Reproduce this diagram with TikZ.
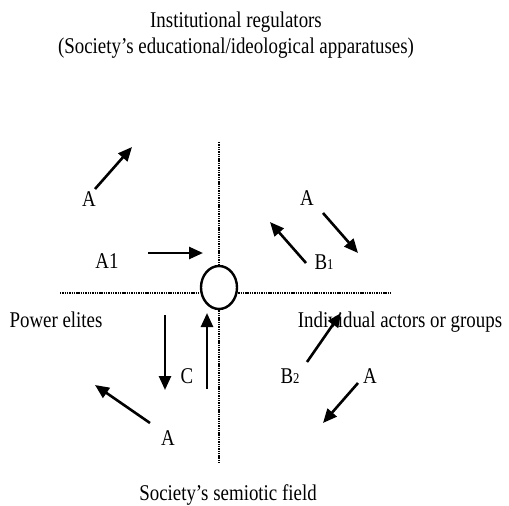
\documentclass[tikz,border=0pt]{standalone}
\usepackage{fontspec}
\setmainfont{Liberation Serif}[FakeStretch=0.84]
\usetikzlibrary{arrows.meta, shapes.geometric}
\tikzset{
  lbl/.style  = {font=\fontsize{22.5}{26}\selectfont, inner sep=0pt, align=center},
  arr/.style  = {-{Triangle[length=14pt,width=12pt]}, line width=2.6pt},
  axisln/.style = {line width=2.8pt, dash pattern=on 1.4pt off 0.9pt},
  hub/.style  = {draw, ellipse, line width=2.4pt, minimum width=36pt,
                 minimum height=43pt, inner sep=0pt},
}
\newcommand{\sub}[1]{{\fontsize{15}{15}\selectfont #1}}

\begin{document}
\begin{tikzpicture}[x=1pt, y=-1pt]
  \useasboundingbox (0,0) rectangle (509,506);

  % titles
  \node[lbl] (regul) at (236,35)
    {Institutional regulators\\(Society's educational/ideological apparatuses)};
  \node[lbl, anchor=base] (field) at (228,500) {Society's semiotic field};
  \node[lbl, anchor=base] (elites) at (56,327) {Power elites};
  \node[lbl, anchor=base] (actors) at (400,327) {Individual actors or groups};

  % axes and hub
  \node[hub] (hub) at (219,287.5) {};
  \coordinate (top) at (219,142);
  \coordinate (bot) at (219,463);
  \coordinate (lft) at (60,293);
  \coordinate (rgt) at (392,293);
  \draw[axisln] (top) -- (hub.north);
  \draw[axisln] (hub.south) -- (bot);
  \draw[axisln] (lft) -- (lft -| hub.west);
  \draw[axisln] (rgt -| hub.east) -- (rgt);

  % letters
  \node[lbl] (a1) at (89,199) {A};
  \node[lbl] (a1x) at (107,261) {A1};
  \node[lbl] (a2) at (307,198) {A};
  \node[lbl] (b1) at (324,262) {B\sub{1}};
  \node[lbl] (c) at (187,376) {C};
  \node[lbl] (b2) at (290,376) {B\sub{2}};
  \node[lbl] (a3) at (370,376) {A};
  \node[lbl] (a4) at (168,438) {A};

  % arrows
  \foreach \xa/\ya/\xb/\yb [count=\i] in {
      95/189/132/147,   148/253/203/253,  323/213/358/253,
      306/263/270/222,  165/315/165/390,  207/389/207/313,
      150/423/95/385,   307/362/341/313,  358/383/323/423} {
    \coordinate (s\i) at (\xa,\ya);
    \coordinate (e\i) at (\xb,\yb);
    \draw[arr] (s\i) -- (e\i);
  }

\end{tikzpicture}
\end{document}
